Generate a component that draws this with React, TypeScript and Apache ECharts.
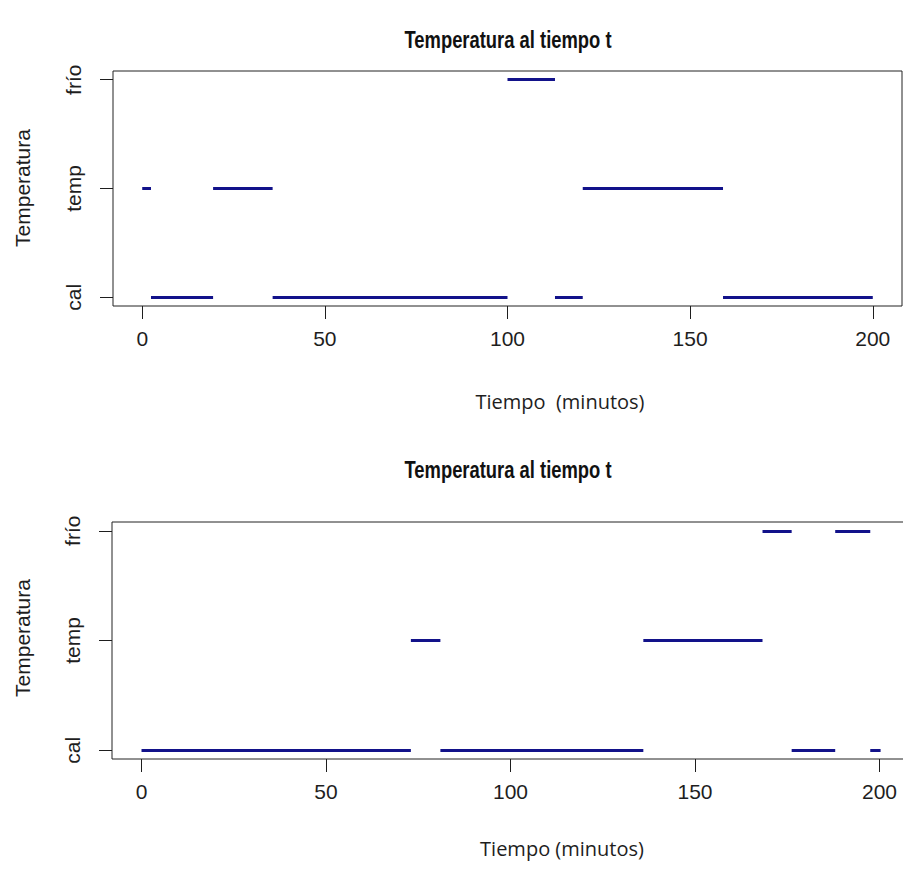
import React, { useEffect, useRef } from "react";
import * as echarts from "echarts";

// Temperature states (y levels 1, 2, 3)
const levels = ["cal", "temp", "frío"];
const xTicks = [0, 50, 100, 150, 200];
const yTicks = [1, 2, 3];

// Panel 1: change times (minutes) and the state held in each interval
const topTimes = [0, 2.4, 19.4, 35.7, 100, 113, 120.6, 159, 200];
const topStates = ["temp", "cal", "temp", "cal", "frío", "cal", "temp", "cal"];

// Panel 2
const bottomTimes = [0, 73, 81, 136, 168.3, 176.2, 188, 197.5, 200.3];
const bottomStates = ["cal", "temp", "cal", "temp", "frío", "cal", "frío", "cal"];

const titleText = "Temperatura al tiempo t";
const yTitle = "Temperatura";

const LINE_COLOR = "#12128a";
const TEXT = "#1e1e1e";
const AX_FONT = "'Liberation Sans', Arial, sans-serif";

function segs(times: number[], states: string[]) {
  return states.map((s, i) => ({
    coords: [
      [times[i], levels.indexOf(s) + 1],
      [times[i + 1], levels.indexOf(s) + 1],
    ],
  }));
}

function xAxisCfg(gridIndex: number) {
  return {
    type: "value",
    gridIndex,
    min: -8,
    max: 208,
    axisLine: { show: false, onZero: false },
    axisTick: {
      show: true,
      length: 13,
      customValues: xTicks,
      lineStyle: { color: TEXT, width: 1 },
    },
    axisLabel: {
      customValues: xTicks,
      margin: 22,
      fontSize: 21,
      fontFamily: AX_FONT,
      color: TEXT,
    },
    splitLine: { show: false },
  };
}

function yAxisCfg(gridIndex: number) {
  return {
    type: "value",
    gridIndex,
    min: 0.92,
    max: 3.08,
    axisLine: { show: false, onZero: false },
    axisTick: {
      show: true,
      length: 13,
      customValues: yTicks,
      lineStyle: { color: TEXT, width: 1 },
    },
    axisLabel: {
      customValues: yTicks,
      rotate: 90,
      margin: 29,
      fontSize: 21,
      fontFamily: AX_FONT,
      color: TEXT,
      formatter: (v: number) => levels[Math.round(v) - 1],
    },
    splitLine: { show: false },
  };
}

export default function App() {
  const ref = useRef<HTMLDivElement>(null);
  useEffect(() => {
    if (!ref.current) return;
    const chart = echarts.init(ref.current, undefined, { renderer: "svg" });
    const titleStyle = {
      text: titleText,
      fontFamily: "'Liberation Sans', Arial, sans-serif",
      fontWeight: "bold",
      fontSize: 23,
      fill: "#111",
      align: "center",
      verticalAlign: "middle",
    };
    const xTitleStyle = {
      fontSize: 20,
      fontFamily: "'Open Sans', 'DejaVu Sans', sans-serif",
      fill: TEXT,
      align: "center",
      verticalAlign: "middle",
    };
    const yTitleStyle = {
      text: yTitle,
      fontSize: 21,
      fontFamily: AX_FONT,
      fill: TEXT,
      align: "center",
      verticalAlign: "middle",
    };
    chart.setOption({
      animation: false,
      backgroundColor: "#ffffff",
      grid: [
        { left: 113, top: 71, width: 789, height: 235, show: true, borderColor: "#222", borderWidth: 1, backgroundColor: "transparent" },
        { left: 112, top: 522, width: 797, height: 237, show: true, borderColor: "#222", borderWidth: 1, backgroundColor: "transparent" },
      ],
      xAxis: [xAxisCfg(0), xAxisCfg(1)],
      yAxis: [yAxisCfg(0), yAxisCfg(1)],
      series: [
        {
          type: "lines",
          coordinateSystem: "cartesian2d",
          xAxisIndex: 0,
          yAxisIndex: 0,
          data: segs(topTimes, topStates),
          lineStyle: { color: LINE_COLOR, width: 3, opacity: 1, cap: "butt" },
        },
        {
          type: "lines",
          coordinateSystem: "cartesian2d",
          xAxisIndex: 1,
          yAxisIndex: 1,
          data: segs(bottomTimes, bottomStates),
          lineStyle: { color: LINE_COLOR, width: 3, opacity: 1, cap: "butt" },
        },
      ],
      graphic: [
        { type: "text", x: 508, y: 40, scaleX: 0.8, style: titleStyle },
        { type: "text", x: 508, y: 470, scaleX: 0.8, style: titleStyle },
        { type: "text", x: 560, y: 401, style: { ...xTitleStyle, text: "Tiempo  (minutos)" } },
        { type: "text", x: 562, y: 848, style: { ...xTitleStyle, text: "Tiempo (minutos)" } },
        { type: "text", x: 22, y: 188, rotation: Math.PI / 2, style: yTitleStyle },
        { type: "text", x: 22, y: 638, rotation: Math.PI / 2, style: yTitleStyle },
      ],
    });
    return () => chart.dispose();
  }, []);
  return (
    <div
      style={{ position: "fixed", left: 0, top: 0, width: 903, height: 873, overflow: "hidden", background: "#fff" }}
    >
      <div ref={ref} style={{ width: 915, height: 873 }} />
    </div>
  );
}
